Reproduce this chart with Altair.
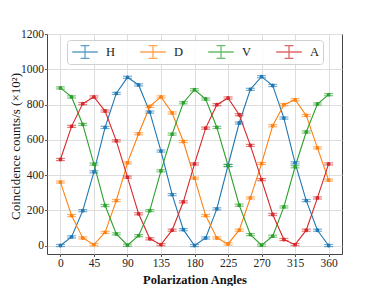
import altair as alt
import pandas as pd

angles = list(range(0, 361, 15))
series_names = ["H", "D", "V", "A"]
colors = ["#1f77b4", "#ff7f0e", "#2ca02c", "#d62728"]
H = [0, 49, 198, 418, 670, 863, 954, 911, 757, 536, 289, 90, 0, 43, 208, 454, 695, 886, 958, 908, 723, 469, 255, 87, 0]
D = [360, 170, 43, 5, 75, 255, 469, 634, 789, 843, 752, 590, 382, 170, 43, 9, 87, 270, 465, 680, 799, 827, 738, 554, 371]
V = [894, 843, 687, 462, 227, 66, 2, 56, 198, 424, 632, 810, 884, 831, 670, 454, 229, 62, 2, 53, 219, 447, 644, 803, 856]
A = [488, 676, 805, 843, 763, 594, 388, 180, 38, 5, 87, 248, 463, 666, 799, 837, 742, 568, 374, 176, 34, 5, 87, 270, 463]
errors = [6] * len(angles)
x_ticks = [0, 45, 90, 135, 180, 225, 270, 315, 360]
y_ticks = [0, 200, 400, 600, 800, 1000, 1200]

rows = []
for name, vals in zip(series_names, [H, D, V, A]):
    for a, v, e in zip(angles, vals, errors):
        rows.append({"angle": a, "value": v, "lo": v - e, "hi": v + e, "series": name})
df = pd.DataFrame(rows)

FONT = "Liberation Serif"
xs = alt.Scale(domain=[-18, 378], nice=False, zero=False)
ys = alt.Scale(domain=[-48, 1200], nice=False, zero=False)
cscale = alt.Scale(domain=series_names, range=colors)

legend_path = ("M-1.6,0H1.6M0,-0.8V0.8M-0.55,-0.8H0.55M-0.55,0.8H0.55")
leg = alt.Legend(title=None, orient="none", legendX=20, legendY=6, direction="horizontal",
                 columns=4, symbolType=legend_path, symbolSize=256, symbolStrokeWidth=1.3,
                 labelFontSize=12.5, labelFont=FONT, labelOffset=12, columnPadding=21,
                 symbolOffset=6, padding=3, strokeColor="#d0d0d0",
                 fillColor="rgba(255,255,255,0.85)", cornerRadius=3, labelColor="#222")
color = alt.Color("series:N", scale=cscale, legend=leg, sort=series_names)

x_enc = alt.X("angle:Q", scale=xs,
              axis=alt.Axis(values=x_ticks, tickCount=30, title="Polarization Angles", grid=True,
                            ticks=True, tickSize=2.5, labelPadding=1, format="d",
                            titleY=25, titleBaseline="middle",
                            labelOverlap=False, labelFontSize=11.5, titleFontSize=12.5,
                            titleFontWeight="bold"))
y_enc = alt.Y("value:Q", scale=ys,
              axis=alt.Axis(values=y_ticks, tickCount=30, title="Coincidence counts/s (×10²)",
                            grid=True, ticks=True, tickSize=2.5, labelPadding=1, format="d",
                            labelOverlap=False,
                            titleX=-31.5, titleY=112, titleAlign="center", titleBaseline="middle",
                            labelFontSize=11.5, titleFontSize=13, titleFontWeight="normal"))

base = alt.Chart(df)

lines = base.mark_line(strokeWidth=1.1).encode(
    x=x_enc, y=y_enc, color=color, detail="series:N",
)

bars = base.mark_rule(strokeWidth=1.2, opacity=0.7).encode(
    x="angle:Q", y="lo:Q", y2="hi:Q", color=color,
)

caps_lo = base.mark_tick(orient="horizontal", size=9, thickness=1.2, opacity=0.6).encode(
    x="angle:Q", y="lo:Q", color=color,
)
caps_hi = base.mark_tick(orient="horizontal", size=9, thickness=1.2, opacity=0.6).encode(
    x="angle:Q", y="hi:Q", color=color,
)

points = base.mark_point(filled=False, size=6, strokeWidth=1.4, opacity=1).encode(
    x="angle:Q", y="value:Q", color=color,
)

chart = alt.layer(lines, bars, caps_lo, caps_hi, points).properties(
    width=295, height=220,
    autosize=alt.AutoSizeParams(type="none"),
    padding={"left": 39, "top": 26, "right": 30, "bottom": 32},
).configure_view(
    stroke="#444444", strokeWidth=1
).configure_axis(
    labelFont=FONT, titleFont=FONT, labelColor="#222", titleColor="#111",
    tickColor="#555555", gridColor="#dddddd", gridWidth=1, domain=False
)

chart.save("out.html", embed_options={"renderer": "svg", "actions": False})
